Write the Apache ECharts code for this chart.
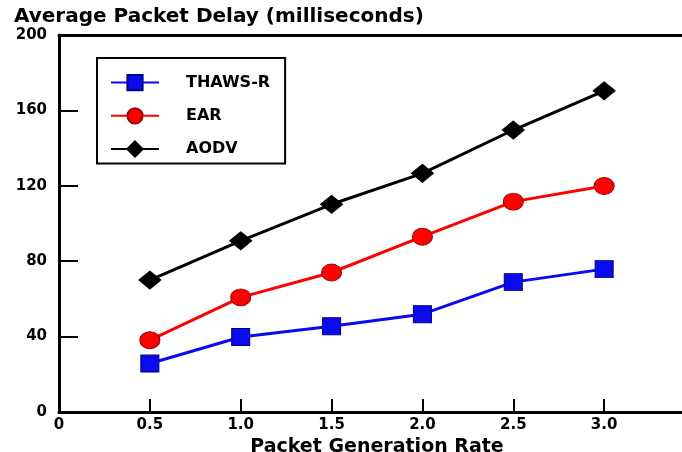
<!DOCTYPE html>
<html>
<head>
<meta charset="utf-8">
<script src="https://cdn.jsdelivr.net/npm/echarts@6/dist/echarts.min.js"></script>
<style>
  html, body { margin: 0; padding: 0; background: #fff; }
  #chart { width: 682px; height: 452px; }
</style>
</head>
<body>
<div id="chart"></div>
<script>
    // packet generation rate (x) and delay in ms (y)
    var rates = [0.5, 1.0, 1.5, 2.0, 2.5, 3.0];
    var thawsR = [25.7, 39.8, 45.5, 51.9, 68.9, 75.8];
    var ear = [38.1, 60.8, 74.0, 93.0, 111.6, 119.9];
    var aodv = [70.0, 90.8, 110.2, 126.6, 149.6, 170.4];
    var yTicks = [0, 40, 80, 120, 160, 200];

    var font = 'DejaVu Sans';

    function pairs(values) {
        var out = [];
        for (var i = 0; i < rates.length; i++) {
            out.push([rates[i], values[i]]);
        }
        return out;
    }

    function makeSeries(name, values, color, border, symbol, size) {
        return {
            name: name,
            type: 'line',
            data: pairs(values),
            symbol: symbol,
            symbolSize: size,
            lineStyle: { color: color, width: 3 },
            itemStyle: { color: color, borderColor: border, borderWidth: 1 },
            emphasis: { disabled: true },
            animation: false,
            z: 3
        };
    }

    var chart = echarts.init(document.getElementById('chart'));
    chart.setOption({
        backgroundColor: '#fff',
        title: {
            text: 'Average Packet Delay (milliseconds)',
            left: 9,
            top: 2,
            textStyle: { fontFamily: font, fontWeight: 'bold', fontSize: 20, color: '#000' }
        },
        legend: {
            orient: 'vertical',
            left: 97,
            top: 58,
            itemWidth: 48,
            itemHeight: 19,
            itemGap: 16,
            padding: [16, 15, 6, 13],
            borderColor: '#000',
            borderWidth: 2,
            backgroundColor: '#fff',
            textStyle: { fontFamily: font, fontWeight: 'bold', fontSize: 16, color: '#000', padding: [0, 0, 0, 22] },
            data: ['THAWS-R', 'EAR', 'AODV']
        },
        grid: { left: 59, right: -13, top: 35, bottom: 40, outerBoundsMode: 'none' },
        xAxis: [{
            type: 'value',
            min: 0,
            max: 3.5,
            interval: 0.5,
            name: 'Packet Generation Rate',
            nameLocation: 'middle',
            nameGap: 17,
            nameTextStyle: { fontFamily: font, fontWeight: 'bold', fontSize: 19, color: '#000' },
            axisLine: { lineStyle: { color: '#000', width: 3 } },
            axisTick: { inside: true, length: 13, lineStyle: { color: '#000', width: 2 } },
            axisLabel: {
                margin: 6,
                fontFamily: font, fontWeight: 'bold', fontSize: 15, color: '#000',
                showMaxLabel: false,
                formatter: function (v) { return v === 0 ? '0' : v.toFixed(1); }
            },
            splitLine: { show: false }
        }, {
            type: 'value',
            position: 'top',
            min: 0,
            max: 3.5,
            axisLine: { onZero: false, lineStyle: { color: '#000', width: 3 } },
            axisTick: { show: false },
            axisLabel: { show: false },
            splitLine: { show: false }
        }],
        yAxis: {
            type: 'value',
            min: yTicks[0],
            max: yTicks[yTicks.length - 1],
            interval: 40,
            axisLine: { show: true, lineStyle: { color: '#000', width: 3 } },
            axisTick: { show: true, inside: true, length: 19, lineStyle: { color: '#000', width: 2 } },
            axisLabel: { margin: 12, fontFamily: font, fontWeight: 'bold', fontSize: 15, color: '#000' },
            splitLine: { show: false }
        },
        series: [
            makeSeries('THAWS-R', thawsR, '#0a0aee', '#00008a', 'rect', [18, 17]),
            makeSeries('EAR', ear, '#ff0000', '#a00000', 'circle', [20, 17]),
            makeSeries('AODV', aodv, '#000000', '#000000', 'diamond', [22, 18])
        ]
    });
</script>
</body>
</html>
